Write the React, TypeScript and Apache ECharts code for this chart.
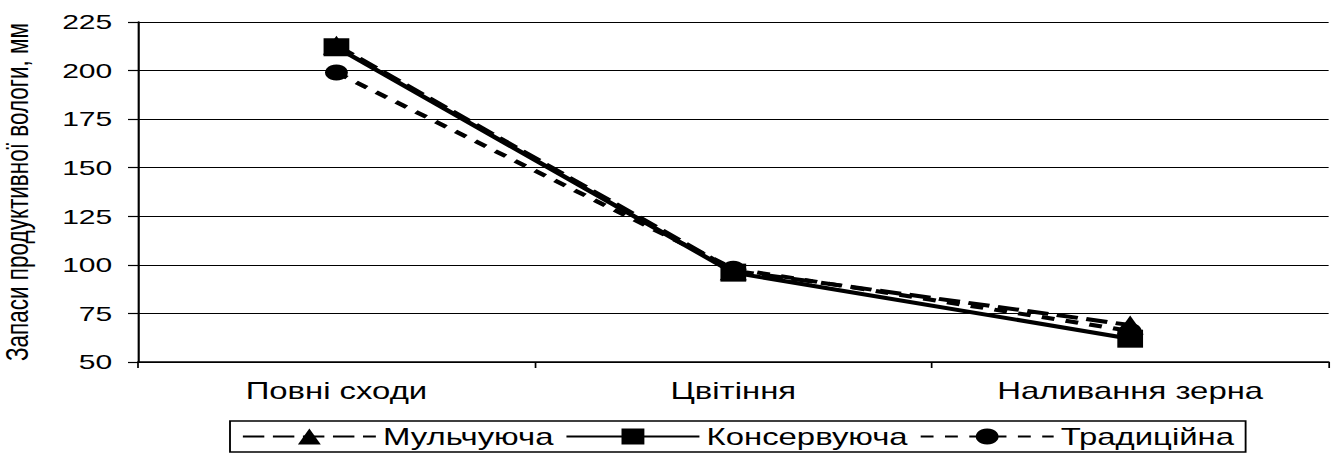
import React, { useEffect, useRef } from "react";
import * as echarts from "echarts";

// Growth stages
const stages = ["Повні сходи", "Цвітіння", "Наливання зерна"];

// Productive moisture reserves, mm, by tillage system
const mulchValues = [213, 97, 69];
const conservValues = [212, 96, 62];
const tradValues = [199, 98, 66];

const seriesNames = ["Мульчуюча", "Консервуюча", "Традиційна"];

const FONT = "Liberation Sans, Arial, sans-serif";

// The chart is laid out in a narrower frame and widened horizontally
const PAGE_W = 1335;
const PAGE_H = 455;
const STRETCH = 1.43;
const FRAME_W = PAGE_W / STRETCH;

export default function App() {
  const ref = useRef<HTMLDivElement>(null);

  useEffect(() => {
    document.body.style.margin = "0";
    if (!ref.current) return;
    const chart = echarts.init(ref.current, null, { renderer: "svg" });
    chart.setOption({
      animation: false,
      backgroundColor: "#ffffff",
      textStyle: { fontFamily: FONT, color: "#000" },
      grid: {
        left: 138 / STRETCH,
        right: 7 / STRETCH,
        top: 22,
        bottom: 93,
        containLabel: false,
        outerBoundsMode: "none",
      },
      xAxis: {
        type: "category",
        data: stages,
        boundaryGap: true,
        axisLine: { lineStyle: { color: "#000", width: 1.5 } },
        axisTick: { show: true, length: 6, lineStyle: { color: "#000", width: 1.2 } },
        axisLabel: { fontSize: 23, color: "#000", margin: 17, fontFamily: FONT },
        splitLine: { show: false },
      },
      yAxis: {
        type: "value",
        min: 50,
        max: 225,
        interval: 25,
        name: "Запаси продуктивної вологи, мм",
        nameLocation: "middle",
        nameGap: 73,
        nameRotate: 90,
        nameTextStyle: { fontSize: 22.5, color: "#000", fontFamily: FONT },
        axisLine: { show: true, lineStyle: { color: "#000", width: 1.5 } },
        axisTick: { show: true, length: 7, lineStyle: { color: "#000", width: 1.2 } },
        axisLabel: { fontSize: 21, color: "#000", margin: 18, fontFamily: FONT },
        splitLine: { show: true, lineStyle: { color: "#000", width: 1 } },
      },
      legend: {
        bottom: 3,
        left: 230 / STRETCH,
        itemGap: 8,
        itemWidth: 93,
        itemHeight: 20,
        padding: [4, 8, 4, 8],
        borderColor: "#000",
        borderWidth: 1.3,
        borderRadius: 0,
        textStyle: { fontSize: 23, color: "#000", fontFamily: FONT },
        data: seriesNames,
      },
      series: [
        {
          name: seriesNames[0],
          type: "line",
          data: mulchValues,
          symbol: "triangle",
          symbolSize: 19,
          itemStyle: { color: "#000" },
          lineStyle: { color: "#000", width: 4, type: [15, 6] },
          z: 2,
        },
        {
          name: seriesNames[1],
          type: "line",
          data: conservValues,
          symbol: "rect",
          symbolSize: 18,
          itemStyle: { color: "#000" },
          lineStyle: { color: "#000", width: 4, type: "solid" },
          z: 3,
        },
        {
          name: seriesNames[2],
          type: "line",
          data: tradValues,
          symbol: "circle",
          symbolSize: 16,
          itemStyle: { color: "#000" },
          lineStyle: { color: "#000", width: 4, type: [9, 8] },
          z: 1,
        },
      ],
    });
    return () => chart.dispose();
  }, []);

  return (
    <div style={{ width: PAGE_W, height: PAGE_H, overflow: "hidden", position: "relative" }}>
      <div
        ref={ref}
        style={{
          width: FRAME_W,
          height: PAGE_H,
          transform: `scaleX(${STRETCH})`,
          transformOrigin: "0 0",
        }}
      />
    </div>
  );
}
